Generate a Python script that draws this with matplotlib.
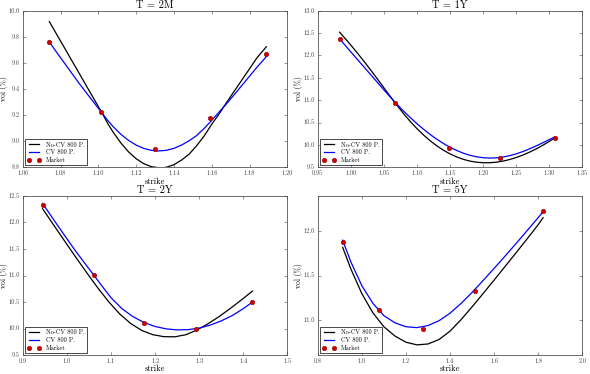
import numpy as np
import matplotlib
matplotlib.use('Agg')
import matplotlib.pyplot as plt
from matplotlib.ticker import MultipleLocator

plt.style.use('classic')
plt.rcParams['font.family'] = ['cmr10', 'DejaVu Serif']
plt.rcParams['axes.formatter.use_mathtext'] = True
plt.rcParams['mathtext.fontset'] = 'cm'

titles = ['T = 2M', 'T = 1Y', 'T = 2Y', 'T = 5Y']

# market quotes
mkt_k_2m = [1.0741, 1.1016, 1.1302, 1.1593, 1.1889]
mkt_v_2m = [9.763, 9.222, 8.943, 9.180, 9.665]
mkt_k_1y = [0.983, 1.067, 1.148, 1.226, 1.308]
mkt_v_1y = [12.37, 10.945, 9.93, 9.71, 10.165]
mkt_k_2y = [0.945, 1.061, 1.175, 1.292, 1.421]
mkt_v_2y = [12.33, 11.01, 10.10, 9.99, 10.50]
mkt_k_5y = [0.913, 1.079, 1.276, 1.513, 1.822]
mkt_v_5y = [11.88, 11.105, 10.90, 11.33, 12.235]

# No-CV 800 P. curves
nocv_k_2m = [1.0741, 1.078, 1.082, 1.086, 1.090, 1.094, 1.098, 1.1016, 1.105, 1.108,
             1.112, 1.116, 1.120, 1.124, 1.128, 1.1326, 1.136, 1.140, 1.144, 1.148,
             1.152, 1.156, 1.160, 1.164, 1.168, 1.172, 1.176, 1.180, 1.184, 1.1889]
nocv_v_2m = [9.916, 9.818, 9.718, 9.617, 9.517, 9.416, 9.316, 9.225, 9.135, 9.066,
             8.985, 8.918, 8.866, 8.828, 8.805, 8.795, 8.80, 8.82, 8.855, 8.90,
             8.965, 9.04, 9.13, 9.21, 9.30, 9.385, 9.47, 9.555, 9.64, 9.724]
nocv_k_1y = [0.983, 0.99, 1.00, 1.01, 1.02, 1.03, 1.04, 1.05, 1.06, 1.07, 1.08, 1.09,
             1.10, 1.11, 1.12, 1.13, 1.14, 1.15, 1.16, 1.17, 1.18, 1.19, 1.20, 1.21,
             1.22, 1.23, 1.24, 1.25, 1.26, 1.27, 1.28, 1.29, 1.30, 1.308]
nocv_v_1y = [12.52, 12.404, 12.232, 12.053, 11.867, 11.675, 11.478, 11.278, 11.078,
             10.882, 10.695, 10.522, 10.364, 10.221, 10.093, 9.980, 9.882, 9.799,
             9.731, 9.678, 9.639, 9.614, 9.602, 9.602, 9.614, 9.638, 9.673, 9.718,
             9.773, 9.837, 9.909, 9.99, 10.078, 10.155]
nocv_k_2y = [0.945, 0.97, 0.995, 1.02, 1.045, 1.07, 1.095, 1.12, 1.145, 1.17, 1.195,
             1.22, 1.245, 1.27, 1.295, 1.32, 1.345, 1.37, 1.395, 1.421]
nocv_v_2y = [12.26, 11.955, 11.65, 11.35, 11.055, 10.77, 10.505, 10.275, 10.095, 9.965,
             9.885, 9.848, 9.845, 9.885, 9.972, 10.09, 10.225, 10.375, 10.535, 10.707]
nocv_k_5y = [0.913, 0.95, 1.00, 1.05, 1.10, 1.15, 1.20, 1.25, 1.30, 1.35, 1.40, 1.45,
             1.50, 1.55, 1.60, 1.65, 1.70, 1.75, 1.80, 1.822]
nocv_v_5y = [11.82, 11.576, 11.296, 11.079, 10.921, 10.816, 10.746, 10.716, 10.726,
             10.776, 10.871, 11.001, 11.146, 11.296, 11.449, 11.604, 11.759, 11.916,
             12.076, 12.155]

# CV 800 P. curves
cv_k_2m = [1.0741, 1.078, 1.082, 1.086, 1.090, 1.094, 1.098, 1.1016, 1.105, 1.108,
           1.112, 1.116, 1.120, 1.124, 1.128, 1.1317, 1.136, 1.140, 1.144, 1.148,
           1.152, 1.156, 1.160, 1.164, 1.168, 1.172, 1.176, 1.180, 1.184, 1.1889]
cv_v_2m = [9.76, 9.68, 9.60, 9.52, 9.44, 9.365, 9.29, 9.222, 9.159, 9.109,
           9.052, 9.006, 8.970, 8.945, 8.930, 8.925, 8.93, 8.945, 8.97, 9.003,
           9.043, 9.098, 9.16, 9.225, 9.29, 9.358, 9.428, 9.498, 9.568, 9.648]
cv_k_1y = [0.983, 0.99, 1.00, 1.01, 1.02, 1.03, 1.04, 1.05, 1.06, 1.067, 1.07, 1.08,
           1.09, 1.10, 1.11, 1.12, 1.13, 1.14, 1.15, 1.16, 1.17, 1.18, 1.19, 1.20,
           1.21, 1.22, 1.23, 1.24, 1.25, 1.26, 1.27, 1.28, 1.29, 1.30, 1.308]
cv_v_1y = [12.37, 12.251, 12.081, 11.911, 11.741, 11.571, 11.401, 11.232, 11.065,
           10.95, 10.904, 10.753, 10.610, 10.475, 10.349, 10.233, 10.127, 10.032,
           9.948, 9.876, 9.816, 9.769, 9.735, 9.714, 9.706, 9.711, 9.729, 9.759,
           9.80, 9.851, 9.911, 9.976, 10.046, 10.119, 10.175]
cv_k_2y = [0.945, 0.97, 0.995, 1.02, 1.045, 1.061, 1.08, 1.10, 1.125, 1.15, 1.175,
           1.20, 1.225, 1.25, 1.275, 1.30, 1.325, 1.35, 1.375, 1.40, 1.421]
cv_v_2y = [12.36, 12.055, 11.755, 11.46, 11.185, 11.01, 10.80, 10.585, 10.375, 10.225,
           10.115, 10.04, 9.995, 9.975, 9.98, 10.01, 10.065, 10.145, 10.245, 10.375,
           10.50]
cv_k_5y = [0.913, 0.95, 1.00, 1.05, 1.10, 1.15, 1.20, 1.25, 1.30, 1.35, 1.40, 1.45,
           1.50, 1.55, 1.60, 1.65, 1.70, 1.75, 1.80, 1.822]
cv_v_5y = [11.90, 11.656, 11.386, 11.186, 11.046, 10.966, 10.921, 10.911, 10.934,
           10.989, 11.074, 11.184, 11.309, 11.444, 11.581, 11.721, 11.864, 12.009,
           12.156, 12.222]

xlims = [(1.06, 1.20), (0.95, 1.35), (0.9, 1.5), (0.8, 2.0)]
ylims = [(8.8, 10.0), (9.5, 13.0), (9.5, 12.5), (10.6, 12.4)]
xsteps = [0.02, 0.05, 0.1, 0.2]
ysteps = [0.2, 0.5, 0.5, 0.5]
xfmt = ['%.2f', '%.2f', '%.1f', '%.1f']

mkt_k = [mkt_k_2m, mkt_k_1y, mkt_k_2y, mkt_k_5y]
mkt_v = [mkt_v_2m, mkt_v_1y, mkt_v_2y, mkt_v_5y]
nocv_k = [nocv_k_2m, nocv_k_1y, nocv_k_2y, nocv_k_5y]
nocv_v = [nocv_v_2m, nocv_v_1y, nocv_v_2y, nocv_v_5y]
cv_k = [cv_k_2m, cv_k_1y, cv_k_2y, cv_k_5y]
cv_v = [cv_v_2m, cv_v_1y, cv_v_2y, cv_v_5y]

fig = plt.figure(figsize=(5.9, 3.74), dpi=100, facecolor='white')
boxes = [(0.0385, 0.5527, 0.4485, 0.4187), (0.5385, 0.5527, 0.4485, 0.4187),
         (0.0385, 0.0505, 0.4485, 0.4255), (0.5385, 0.0505, 0.4485, 0.4255)]

for i in range(4):
    ax = fig.add_axes(boxes[i])
    ax.plot(nocv_k[i], nocv_v[i], color='k', lw=0.9, label='No-CV 800 P.')
    ax.plot(cv_k[i], cv_v[i], color='b', lw=0.9, label='CV 800 P.')
    ax.plot(mkt_k[i], mkt_v[i], 'o', color='#d40000', mec='#8b0000', mew=0.4,
            ms=3.2, ls='none', label='Market')
    ax.set_xlim(*xlims[i])
    ax.set_ylim(*ylims[i])
    ax.xaxis.set_major_locator(MultipleLocator(xsteps[i]))
    ax.yaxis.set_major_locator(MultipleLocator(ysteps[i]))
    ax.xaxis.set_major_formatter(plt.FormatStrFormatter(xfmt[i]))
    ax.yaxis.set_major_formatter(plt.FormatStrFormatter('%.1f'))
    ax.tick_params(labelsize=4.5, length=2.5, width=0.4, pad=2, colors='#444444')
    for s in ax.spines.values():
        s.set_linewidth(0.6)
        s.set_color('#555555')
    ax.set_title(titles[i], fontsize=7.5, pad=2)
    ax.set_xlabel('strike', fontsize=6, labelpad=1)
    ax.set_ylabel('vol (%)', fontsize=5.5, labelpad=0.5)
    leg = ax.legend(loc='lower left', numpoints=2, borderaxespad=0.3,
                    handlelength=2.2, borderpad=0.4, labelspacing=0.3,
                    prop={'size': 4.5, 'weight': 'bold'})
    leg.get_frame().set_linewidth(0.5)

fig.savefig('out.png', dpi=100, facecolor='white')
